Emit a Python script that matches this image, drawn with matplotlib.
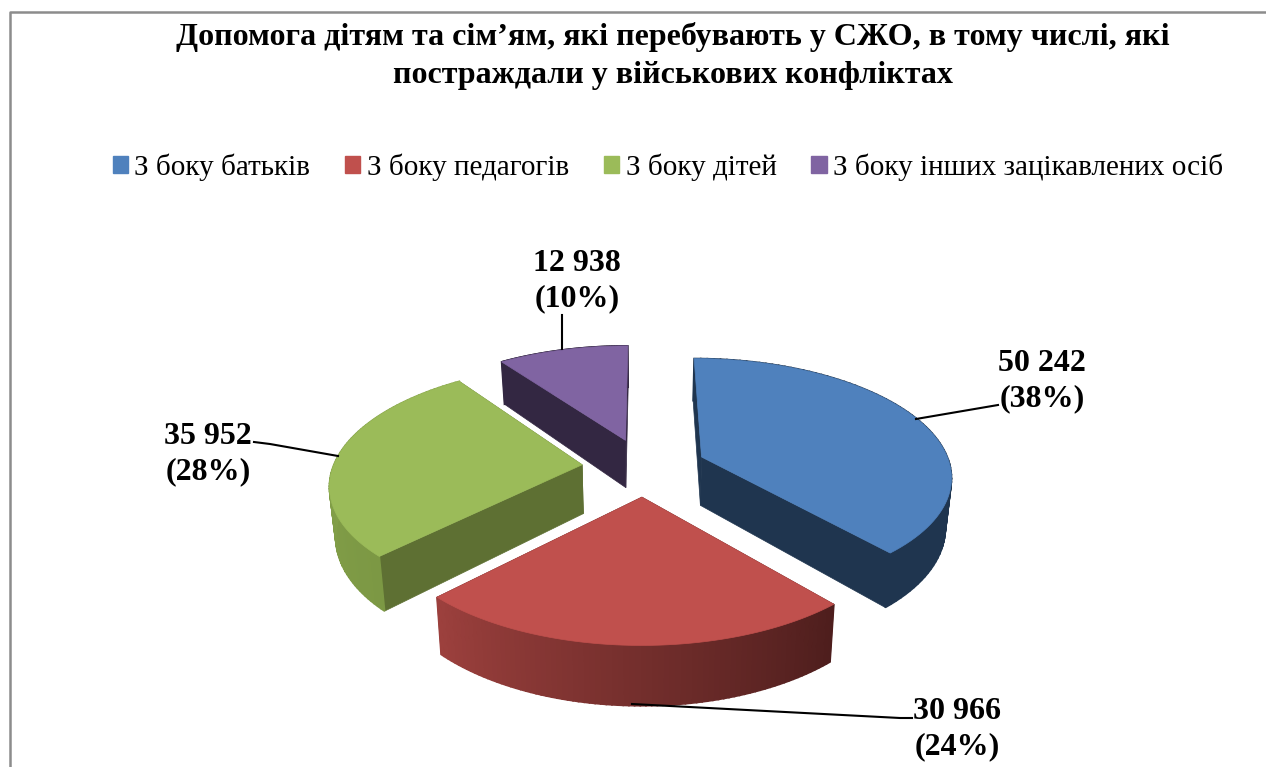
import matplotlib
matplotlib.use("Agg")
import matplotlib.pyplot as plt
import numpy as np
from matplotlib.colors import to_rgb
from matplotlib.patches import Patch

plt.rcParams['font.family'] = ['Liberation Serif', 'DejaVu Serif']

title = "Допомога дітям та сім’ям, які перебувають у СЖО, в тому числі, які\nпостраждали у військових конфліктах"
categories = ["З боку батьків", "З боку педагогів", "З боку дітей", "З боку інших зацікавлених осіб"]
values = [50242, 30966, 35952, 12938]
value_labels = ["50 242\n(38%)", "30 966\n(24%)", "35 952\n(28%)", "12 938\n(10%)"]

top_colors = ["#4F81BD", "#C0504D", "#9BBB59", "#8064A2"]
wall_colors = ["#1F354F", "#4F1F1E", "#5E7033", "#332742"]
rim_colors = [("#1F354F", "#1F354F"), ("#4E1E1D", "#9C403D"),
              ("#7C9844", "#8AA84E"), ("#332742", "#332742")]

# projection of the tilted pie, in image pixels
cx, cy = 644, 467
rx, ry = 249, 116
persp = 0.15
explode = 0.25
height = 49
shrink = 0.98


def project(u, v, lower=False):
    s = 1 / (1 - persp * v)
    x = cx + rx * u * s
    y = cy + (ry * v + (height if lower else 0)) * s
    if lower:
        x = cx + (x - cx) * shrink
    return x, y


def disc_points(a0, a1, eu, ev, n=80):
    t = np.linspace(a0, a1, n)
    return np.sin(t) + eu, -np.cos(t) + ev


def draw_slice(ax, a0, a1, top, wall, rim):
    mid = (a0 + a1) / 2
    eu, ev = explode * np.sin(mid), -explode * np.cos(mid)

    # the two flat cut faces
    for a in (a0, a1):
        u = np.array([eu, eu + np.sin(a)])
        v = np.array([ev, ev - np.cos(a)])
        x1, y1 = project(u, v)
        x2, y2 = project(u, v, lower=True)
        ax.fill(np.r_[x1, x2[::-1]], np.r_[y1, y2[::-1]], color=wall, lw=0.5)

    # outer rim, as thin strips so it can carry a gradient
    u, v = disc_points(a0, a1, eu, ev)
    x1, y1 = project(u, v)
    x2, y2 = project(u, v, lower=True)
    c0, c1 = np.array(to_rgb(rim[0])), np.array(to_rgb(rim[1]))
    for i in range(len(u) - 1):
        col = c0 + (c1 - c0) * i / (len(u) - 2)
        ax.fill([x1[i], x1[i + 1], x2[i + 1], x2[i]],
                [y1[i], y1[i + 1], y2[i + 1], y2[i]], color=col, lw=1.2)

    # top surface
    x, y = project(np.r_[eu, u], np.r_[ev, v])
    ax.fill(x, y, color=top, lw=0.5)


fig = plt.figure(figsize=(12.66, 7.67), dpi=100)
ax = fig.add_axes([0, 0, 1, 1])
ax.set_xlim(0, 1266)
ax.set_ylim(767, 0)
ax.axis("off")

# chart frame, cut by the page on the right and bottom
ax.plot([10, 10, 1266], [767, 12, 12], color="#8C8C8C", lw=1.8)

ax.text(673, 56, title, ha="center", va="center", fontsize=23, fontweight="bold",
        linespacing=1.45)

handles = [Patch(color=c, label=n) for c, n in zip(top_colors, categories)]
ax.legend(handles=handles, ncol=4, loc="center", bbox_to_anchor=(668 / 1266, 1 - 167 / 767),
          frameon=False, fontsize=21, handlelength=0.52, handleheight=0.5,
          handletextpad=0.22, columnspacing=1.2, borderpad=0, labelspacing=0)

angles = np.cumsum([0] + values) / sum(values) * 2 * np.pi
slices = [(angles[i], angles[i + 1], top_colors[i], wall_colors[i], rim_colors[i]) for i in range(4)]
# back slices first so the front ones sit on top
for i in [3, 0, 2, 1]:
    draw_slice(ax, *slices[i])

# leader lines
leaders = [([916, 998], [419, 405]), ([632, 900, 912], [704, 718, 718]),
           ([338, 270, 254], [456, 444, 442]), ([562, 562], [349, 315])]
for lx, ly in leaders:
    ax.plot(lx, ly, color="black", lw=1.5)

label_pos = [(1042, 381), (957, 729), (208, 454), (577, 281)]
for (lx, ly), text in zip(label_pos, value_labels):
    ax.text(lx, ly, text, ha="center", va="center", fontsize=23, fontweight="bold",
            linespacing=1.3)

fig.savefig("out.png", dpi=100)
